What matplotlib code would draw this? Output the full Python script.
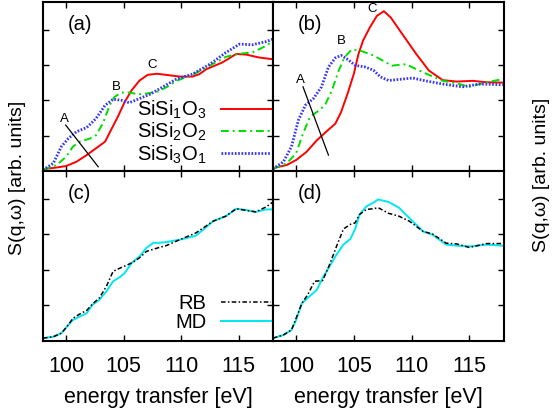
import numpy as np
import matplotlib.pyplot as plt

plt.rcParams['font.family'] = ['Liberation Sans', 'DejaVu Sans']
plt.rcParams['mathtext.default'] = 'regular'

# panel (a): three clusters
xa_red = [98.0, 99.2, 100.0, 100.9, 101.8, 102.6, 103.4, 103.9, 104.5, 105.1, 105.7, 106.4, 107.1, 107.9, 108.7, 109.9, 111.0, 111.6, 112.2, 113.6, 114.8, 115.7, 116.8, 118.0]
ya_red = [0.05, 0.10, 0.14, 0.26, 0.45, 0.64, 0.83, 1.15, 1.53, 1.95, 2.28, 2.56, 2.72, 2.75, 2.72, 2.67, 2.67, 2.74, 2.88, 3.07, 3.31, 3.29, 3.21, 3.16]
xa_green = [98.0, 99.2, 100.0, 100.6, 101.2, 102.1, 102.6, 103.2, 103.8, 104.2, 104.8, 105.5, 106.3, 107.0, 108.0, 108.8, 109.6, 111.0, 112.5, 113.9, 115.1, 116.2, 117.4, 118.0]
ya_green = [0.03, 0.17, 0.40, 0.69, 0.83, 0.92, 1.01, 1.34, 1.86, 2.09, 2.22, 2.22, 2.17, 2.19, 2.25, 2.38, 2.55, 2.72, 2.98, 3.23, 3.32, 3.35, 3.54, 3.68]
xa_blue = [98.0, 98.9, 99.6, 100.2, 100.9, 101.8, 102.6, 103.4, 104.1, 104.8, 105.5, 106.4, 107.3, 108.0, 108.8, 109.6, 111.0, 112.5, 113.9, 115.1, 116.2, 117.4, 118.0]
ya_blue = [0.03, 0.22, 0.69, 0.92, 1.11, 1.23, 1.48, 1.86, 2.03, 2.00, 1.93, 2.05, 2.17, 2.30, 2.45, 2.60, 2.74, 3.02, 3.35, 3.59, 3.57, 3.66, 3.73]

# panel (b)
xb_red = [98.0, 99.2, 100.0, 100.9, 101.8, 102.6, 103.4, 103.9, 104.5, 105.0, 105.4, 105.8, 106.4, 107.0, 107.6, 108.2, 109.2, 110.4, 111.5, 112.7, 113.9, 115.3, 116.5, 117.9]
yb_red = [0.08, 0.17, 0.31, 0.54, 0.87, 1.11, 1.34, 1.67, 2.23, 2.75, 3.31, 3.69, 4.07, 4.39, 4.52, 4.34, 3.87, 3.31, 2.84, 2.57, 2.53, 2.55, 2.51, 2.50]
xb_green = [98.0, 99.2, 100.0, 100.6, 101.2, 101.8, 102.5, 103.1, 103.7, 104.2, 104.8, 105.5, 106.7, 107.9, 108.3, 109.5, 111.0, 112.7, 113.9, 115.0, 116.5, 117.9]
yb_green = [0.06, 0.22, 0.50, 1.06, 1.53, 1.67, 1.86, 2.28, 2.85, 3.22, 3.43, 3.41, 3.27, 3.05, 2.98, 3.02, 2.79, 2.55, 2.48, 2.38, 2.51, 2.60]
xb_blue = [98.0, 98.9, 99.6, 100.2, 100.8, 101.5, 102.2, 102.8, 103.4, 103.9, 104.5, 105.1, 106.0, 106.7, 107.3, 108.0, 109.2, 110.1, 111.2, 112.7, 114.4, 115.9, 117.9]
yb_blue = [0.06, 0.26, 0.69, 1.44, 1.86, 2.05, 2.38, 2.94, 3.20, 3.27, 3.15, 2.99, 2.94, 2.85, 2.66, 2.56, 2.60, 2.63, 2.55, 2.46, 2.38, 2.46, 2.44]

# panel (c): RB vs MD
xc_rb = [98.0, 98.9, 99.6, 100.2, 100.6, 101.2, 101.8, 102.3, 102.9, 103.5, 104.1, 104.7, 105.2, 105.8, 106.4, 107.0, 108.0, 108.7, 109.9, 111.3, 112.8, 113.9, 114.8, 115.7, 116.5, 117.4, 118.0]
yc_rb = [0.08, 0.12, 0.22, 0.45, 0.64, 0.76, 0.86, 1.04, 1.21, 1.53, 1.96, 2.05, 2.12, 2.21, 2.34, 2.52, 2.62, 2.68, 2.85, 3.04, 3.37, 3.51, 3.72, 3.67, 3.63, 3.77, 3.91]
xc_md = [98.0, 98.9, 99.6, 100.2, 100.6, 101.2, 101.8, 102.3, 102.9, 103.5, 104.1, 104.7, 105.1, 105.7, 106.4, 107.0, 107.6, 108.0, 108.7, 109.9, 111.3, 112.8, 113.9, 114.8, 115.7, 116.5, 117.4, 118.0]
yc_md = [0.08, 0.12, 0.22, 0.45, 0.59, 0.69, 0.78, 1.02, 1.16, 1.39, 1.68, 1.80, 1.91, 2.19, 2.38, 2.62, 2.76, 2.76, 2.78, 2.85, 2.96, 3.37, 3.51, 3.72, 3.68, 3.63, 3.70, 3.70]

# panel (d)
xd_rb = [98.0, 98.9, 99.6, 100.0, 100.5, 101.0, 101.6, 102.3, 102.9, 103.5, 104.1, 104.7, 105.1, 105.5, 106.1, 106.7, 107.1, 108.0, 108.9, 109.8, 111.0, 111.8, 113.0, 113.9, 115.0, 116.5, 117.9]
yd_rb = [0.08, 0.17, 0.31, 0.64, 1.06, 1.30, 1.68, 1.70, 2.15, 2.66, 3.15, 3.28, 3.32, 3.56, 3.70, 3.72, 3.75, 3.59, 3.51, 3.37, 3.08, 3.01, 2.75, 2.73, 2.63, 2.74, 2.74]
xd_md = [98.0, 98.9, 99.6, 100.0, 100.5, 101.0, 101.8, 102.3, 102.9, 103.5, 104.1, 104.7, 105.1, 105.5, 106.1, 106.7, 107.1, 108.0, 108.9, 109.8, 111.0, 111.8, 113.0, 113.9, 115.0, 116.5, 117.9]
yd_md = [0.08, 0.17, 0.31, 0.59, 1.06, 1.21, 1.44, 1.77, 2.10, 2.43, 2.71, 2.87, 3.14, 3.56, 3.79, 3.89, 3.98, 3.91, 3.75, 3.46, 3.08, 2.99, 2.71, 2.68, 2.66, 2.71, 2.68]

# peak labels and guide lines
peaks_a = {'A': (99.9, 1.48), 'B': (104.4, 2.38), 'C': (107.5, 3.01)}
guide_a = ([99.97, 102.8], [1.30, 0.12])
peaks_b = {'A': (100.4, 2.56), 'B': (103.9, 3.67), 'C': (106.6, 4.58)}
guide_b = ([100.6, 102.8], [2.38, 0.45])

red = '#ff0000'
green = '#00dd00'
blue = '#3333ff'
cyan = '#00e8f0'

fig = plt.figure(figsize=(5.52, 4.16), dpi=100)
W, H = 552, 416
def box(x0, y0, x1, y1):
    return [x0 / W, 1 - y1 / H, (x1 - x0) / W, (y1 - y0) / H]

ax_a = fig.add_axes(box(43, 2, 273, 171))
ax_b = fig.add_axes(box(273, 2, 504, 171))
ax_c = fig.add_axes(box(43, 171, 273, 341))
ax_d = fig.add_axes(box(273, 171, 504, 341))

def style(ax, label, bottom):
    ax.set_xlim(98, 118)
    ax.set_ylim(0, 4.78)
    ax.set_xticks([100, 105, 110, 115])
    ax.set_yticks([1, 2, 3, 4])
    ax.set_yticklabels([])
    ax.tick_params(direction='in', top=True, right=True, length=4, width=1, labelsize=15.5, pad=11)
    if not bottom:
        ax.set_xticklabels([])
    else:
        ax.set_xlabel('energy transfer [eV]', fontsize=15.5, labelpad=7)
    for s in ax.spines.values():
        s.set_linewidth(1.5)
    ax.text(0.16, 0.865, label, transform=ax.transAxes, fontsize=14.5, ha='center', va='center')

dash_dot = (0, (4, 2, 1, 2))
dots = (0, (0.6, 0.6))
rb_style = (0, (3, 1.5, 1, 1.5))

ax_a.plot(xa_red, ya_red, color=red, lw=1.4, label='SiSi$_1$O$_3$')
ax_a.plot(xa_green, ya_green, color=green, lw=1.4, ls=dash_dot, label='SiSi$_2$O$_2$')
ax_a.plot(xa_blue, ya_blue, color=blue, lw=2.0, ls=dots, label='SiSi$_3$O$_1$')
ax_b.plot(xb_red, yb_red, color=red, lw=1.4)
ax_b.plot(xb_green, yb_green, color=green, lw=1.4, ls=dash_dot)
ax_b.plot(xb_blue, yb_blue, color=blue, lw=2.0, ls=dots)

for ax, peaks, guide in [(ax_a, peaks_a, guide_a), (ax_b, peaks_b, guide_b)]:
    for name, (px, py) in peaks.items():
        ax.text(px, py, name, fontsize=9.5, ha='center', va='center')
    ax.plot(guide[0], guide[1], color='black', lw=0.9)

ax_c.plot(xc_rb, yc_rb, color='black', lw=1.1, ls=rb_style, label='RB', zorder=3)
ax_c.plot(xc_md, yc_md, color=cyan, lw=1.4, label='MD')
ax_d.plot(xd_rb, yd_rb, color='black', lw=1.1, ls=rb_style, zorder=3)
ax_d.plot(xd_md, yd_md, color=cyan, lw=1.4)

style(ax_a, '(a)', False)
style(ax_b, '(b)', False)
style(ax_c, '(c)', True)
style(ax_d, '(d)', True)

ax_a.legend(loc='lower right', bbox_to_anchor=(1.0, 0.02), frameon=False, markerfirst=False,
            fontsize=14.5, handlelength=2.5, handletextpad=0.7, labelspacing=0.0,
            borderaxespad=0.0, borderpad=0.1)
ax_c.legend(loc='lower right', bbox_to_anchor=(1.0, 0.04), frameon=False, markerfirst=False,
            fontsize=14.5, handlelength=2.5, handletextpad=0.7, labelspacing=0.0,
            borderaxespad=0.0, borderpad=0.1)

fig.text(18 / W, 1 - 178 / H, 'S(q,ω) [arb. units]', rotation=90, fontsize=14, ha='center', va='center')
fig.text(541 / W, 1 - 175 / H, 'S(q,ω) [arb. units]', rotation=90, fontsize=14, ha='center', va='center')

fig.savefig('out.png', dpi=100)
